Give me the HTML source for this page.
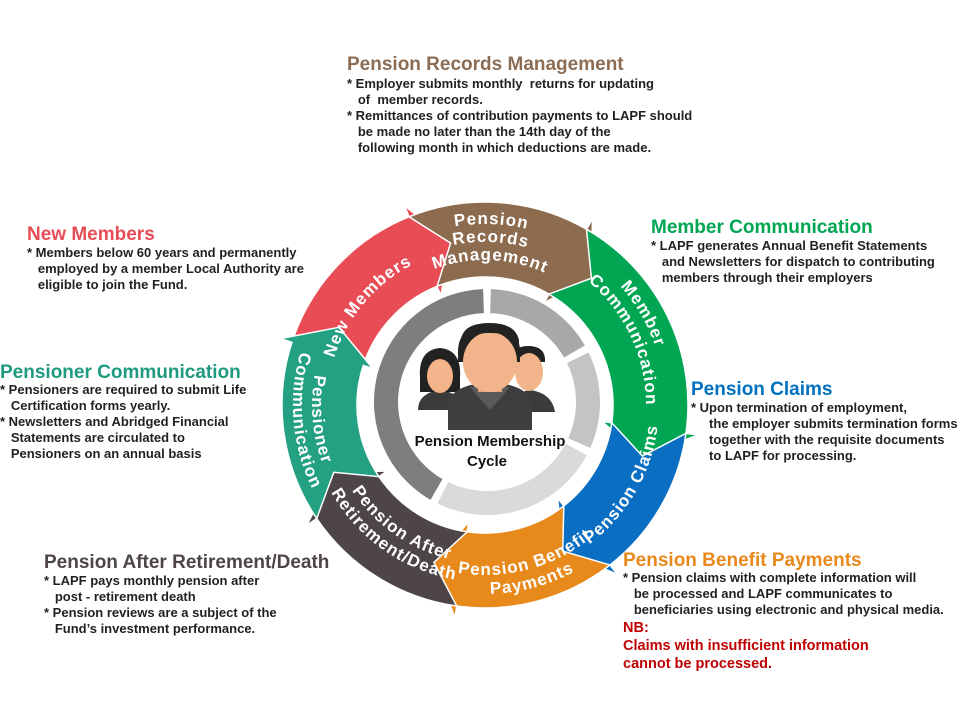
<!DOCTYPE html>
<html><head><meta charset="utf-8">
<style>
html,body{margin:0;padding:0;background:#fff;}
#wrap{position:relative;width:960px;height:720px;overflow:hidden;font-family:"Liberation Sans",sans-serif;}
.t{position:absolute;font-weight:bold;font-size:19px;white-space:nowrap;line-height:20px;}
.b{position:absolute;font-weight:bold;font-size:13px;color:#231f20;white-space:pre;line-height:16px;}
svg{position:absolute;left:0;top:0;}
.lbl{font-family:"Liberation Sans",sans-serif;font-weight:bold;font-size:17px;fill:#fff;letter-spacing:1px;}
</style></head><body><div id="wrap">
<svg id="sv" width="960" height="720" viewBox="0 0 960 720">
<g id="ring"></g>
<g id="gray"></g>
<!-- people -->
<g>
<path d="M418 410 Q418 393 440 390 Q462 393 464 410 Z" fill="#3b3b3b"/>
<path d="M420 378 Q418 350 440 348 Q462 350 460 378 L460 392 L420 392 Z" fill="#222"/>
<ellipse cx="440" cy="376" rx="13" ry="17" fill="#f2b48a"/>
<path d="M428 364 Q440 352 453 364 L453 360 Q440 350 427 360 Z" fill="#222"/>
<path d="M510 412 Q510 393 530 390 Q552 393 555 412 Z" fill="#3b3b3b"/>
<path d="M510 362 Q512 345 530 346 Q546 347 545 362 Z" fill="#222"/>
<ellipse cx="529" cy="372" rx="14" ry="19" fill="#f2b48a"/>
<path d="M448 430 L448 405 Q450 385 490 382 Q530 385 532 405 L532 430 Z" fill="#3e3e3e"/>
<path d="M470 387 L490 410 L510 387 Z" fill="#5a5a5a"/>
<path d="M478 370 L478 392 L502 392 L502 370 Z" fill="#e9a57b"/>
<path d="M458 352 Q458 325 490 324 Q520 325 520 352 L520 362 L458 362 Z" fill="#222"/>
<ellipse cx="490" cy="362" rx="27" ry="30" fill="#f2b48a"/>
<path d="M461 350 Q470 332 490 333 Q512 332 519 350 L519 340 Q515 323 490 323 Q463 323 461 340 Z" fill="#222"/>
</g>
<text x="490" y="446" text-anchor="middle" style="font-family:'Liberation Sans',sans-serif;font-weight:bold;font-size:15px;fill:#111">Pension Membership</text>
<text x="487" y="466" text-anchor="middle" style="font-family:'Liberation Sans',sans-serif;font-weight:bold;font-size:15px;fill:#111">Cycle</text>
<defs id="defs">
<path id="p_red"/><path id="p_br1"/><path id="p_br2"/><path id="p_br3"/>
<path id="p_gr1"/><path id="p_gr2"/><path id="p_bl"/><path id="p_or1"/><path id="p_or2"/>
<path id="p_dk1"/><path id="p_dk2"/><path id="p_te1"/><path id="p_te2"/>
</defs>
<g class="lbl">
<text class="lbl"><textPath href="#p_red" startOffset="50%" text-anchor="middle">New Members</textPath></text>
<text class="lbl"><textPath href="#p_br1" startOffset="50%" text-anchor="middle">Pension</textPath></text>
<text class="lbl"><textPath href="#p_br2" startOffset="50%" text-anchor="middle">Records</textPath></text>
<text class="lbl"><textPath href="#p_br3" startOffset="50%" text-anchor="middle">Management</textPath></text>
<text class="lbl"><textPath href="#p_gr1" startOffset="50%" text-anchor="middle">Member</textPath></text>
<text class="lbl"><textPath href="#p_gr2" startOffset="50%" text-anchor="middle">Communication</textPath></text>
<text class="lbl"><textPath href="#p_bl" startOffset="50%" text-anchor="middle">Pension Claims</textPath></text>
<text class="lbl"><textPath href="#p_or1" startOffset="50%" text-anchor="middle">Pension Benefit</textPath></text>
<text class="lbl"><textPath href="#p_or2" startOffset="50%" text-anchor="middle">Payments</textPath></text>
<text class="lbl"><textPath href="#p_dk1" startOffset="50%" text-anchor="middle">Pension After</textPath></text>
<text class="lbl"><textPath href="#p_dk2" startOffset="50%" text-anchor="middle">Retirement/Death</textPath></text>
<text class="lbl"><textPath href="#p_te1" startOffset="50%" text-anchor="middle">Pensioner</textPath></text>
<text class="lbl"><textPath href="#p_te2" startOffset="50%" text-anchor="middle">Communication</textPath></text>
</g>
</svg>

<div class="t" style="left:347px;top:55px;color:#8c6d53">Pension Records Management</div>
<div class="b" style="left:347px;top:76px">* Employer submits monthly  returns for updating
   of  member records.
* Remittances of contribution payments to LAPF should
   be made no later than the 14th day of the
   following month in which deductions are made.</div>

<div class="t" style="left:27px;top:225px;color:#e84c55">New Members</div>
<div class="b" style="left:27px;top:245px">* Members below 60 years and permanently
   employed by a member Local Authority are
   eligible to join the Fund.</div>

<div class="t" style="left:651px;top:218px;color:#00a651">Member Communication</div>
<div class="b" style="left:651px;top:238px">* LAPF generates Annual Benefit Statements
   and Newsletters for dispatch to contributing
   members through their employers</div>

<div class="t" style="left:691px;top:380px;color:#0070c0">Pension Claims</div>
<div class="b" style="left:691px;top:400px">* Upon termination of employment,
     the employer submits termination forms
     together with the requisite documents
     to LAPF for processing.</div>

<div class="t" style="left:0px;top:363px;color:#1e9a80">Pensioner Communication</div>
<div class="b" style="left:0px;top:382px">* Pensioners are required to submit Life
   Certification forms yearly.
* Newsletters and Abridged Financial
   Statements are circulated to
   Pensioners on an annual basis</div>

<div class="t" style="left:44px;top:553px;color:#4d4547">Pension After Retirement/Death</div>
<div class="b" style="left:44px;top:573px">* LAPF pays monthly pension after
   post - retirement death
* Pension reviews are a subject of the
   Fund’s investment performance.</div>

<div class="t" style="left:623px;top:551px;color:#e8891c">Pension Benefit Payments</div>
<div class="b" style="left:623px;top:570px">* Pension claims with complete information will
   be processed and LAPF communicates to
   beneficiaries using electronic and physical media.</div>
<div class="b" style="left:623px;top:619px;color:#c00000;font-size:14.5px;line-height:18px">NB:
Claims with insufficient information
cannot be processed.</div>

<script>
(function(){
var cx=485,cy=405,NS="http://www.w3.org/2000/svg";
function P(a,r){var t=a*Math.PI/180;return [cx+r*Math.sin(t),cy-r*Math.cos(t)];}
function f(p){return p[0].toFixed(1)+" "+p[1].toFixed(1);}
var r1=128,r2=203,rm=(r1+r2)/2;
var segs=[
 [286,338,"#e84c55"],[-22,30,"#8d6b4f"],[30,98,"#00a651"],[98,142,"#0a6fc2"],
 [142,188,"#e8891c"],[188,236,"#4d4547"],[236,288,"#24a083"]];
var ring=document.getElementById("ring");
segs.forEach(function(s){
 var a0=s[0],a1=s[1],h=10;
 var d="M"+f(P(a0,r2))+" A"+r2+" "+r2+" 0 0 1 "+f(P(a1,r2))+
 " L"+f(P(a1,r2+12))+" L"+f(P(a1+h,rm))+" L"+f(P(a1,r1-10))+" L"+f(P(a1,r1))+
 " A"+r1+" "+r1+" 0 0 0 "+f(P(a0,r1))+" L"+f(P(a0+h,rm))+" Z";
 var p=document.createElementNS(NS,"path");p.setAttribute("d",d);p.setAttribute("fill",s[2]);p.setAttribute("stroke","#fff");p.setAttribute("stroke-width","1.5");ring.appendChild(p);
});
var g=document.getElementById("gray"),gc=[487,402];
function Q(a,r){var t=a*Math.PI/180;return [gc[0]+r*Math.sin(t),gc[1]-r*Math.cos(t)];}
var ws=document.createElementNS(NS,"circle");ws.setAttribute("cx",gc[0]);ws.setAttribute("cy",gc[1]);ws.setAttribute("r",113);ws.setAttribute("fill","#fff");g.appendChild(ws);
[[2,60,"#a8a8a8"],[64,114,"#c4c4c4"],[118,206,"#dadada"],[210,358,"#7e7e7e"]].forEach(function(s){
 var R=113,r=89,big=(s[1]-s[0])>180?1:0;
 var d="M"+f(Q(s[0],R))+" A"+R+" "+R+" 0 "+big+" 1 "+f(Q(s[1],R))+" L"+f(Q(s[1],r))+" A"+r+" "+r+" 0 "+big+" 0 "+f(Q(s[0],r))+" Z";
 var p=document.createElementNS(NS,"path");p.setAttribute("d",d);p.setAttribute("fill",s[2]);g.appendChild(p);
});
function cw(id,a,b,r){document.getElementById(id).setAttribute("d","M"+f(P(a,r))+" A"+r+" "+r+" 0 0 1 "+f(P(b,r)));}
function ccw(id,a,b,r){document.getElementById(id).setAttribute("d","M"+f(P(b,r))+" A"+r+" "+r+" 0 0 0 "+f(P(a,r)));}
cw("p_red",260,360,158);
cw("p_br1",-50,54,181);cw("p_br2",-50,54,163);cw("p_br3",-50,54,145);
cw("p_gr1",15,105,180);cw("p_gr2",15,115,161);
ccw("p_bl",70,170,174);
ccw("p_or1",115,215,170);ccw("p_or2",115,215,189);
ccw("p_dk1",165,265,158);ccw("p_dk2",165,265,177);
ccw("p_te1",215,315,173);ccw("p_te2",215,315,192);
})();
</script>
</div></body></html>
